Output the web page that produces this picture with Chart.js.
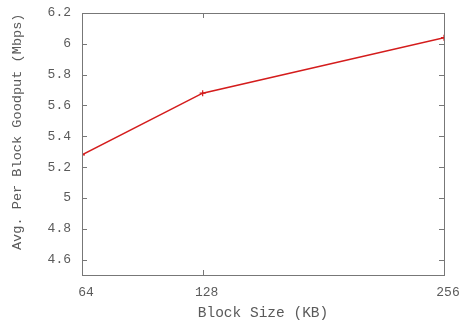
<!DOCTYPE html>
<html>
<head>
<meta charset="utf-8">
<script src="https://cdn.jsdelivr.net/npm/chart.js@4.4.0/dist/chart.umd.min.js"></script>
<style>
  html, body { margin: 0; padding: 0; background: #fff; }
  #goodputChart { display: block; }
</style>
</head>
<body>
<canvas id="goodputChart" width="463" height="323"></canvas>
<script>
// block sizes in KB and the measured goodput
const blockSizes = [64, 128, 256];
const goodput = [5.28, 5.68, 6.04];
const yTicks = [4.6, 4.8, 5, 5.2, 5.4, 5.6, 5.8, 6, 6.2];

const textColor = '#5a5a5a';
const frameColor = '#777';
const monoFont = 'Liberation Mono, DejaVu Sans Mono, monospace';

// gnuplot-like frame with inward ticks on all four sides
const framePlugin = {
    id: 'frame',
    afterDraw(chart) {
        const { ctx, chartArea: a, scales } = chart;
        ctx.save();
        ctx.strokeStyle = frameColor;
        ctx.lineWidth = 1;
        ctx.strokeRect(a.left + 0.5, a.top + 0.5, a.right - a.left, a.bottom - a.top);
        ctx.beginPath();
        yTicks.forEach(v => {
            const y = Math.round(scales.y.getPixelForValue(v)) + 0.5;
            ctx.moveTo(a.left, y); ctx.lineTo(a.left + 5, y);
            ctx.moveTo(a.right, y); ctx.lineTo(a.right - 5, y);
        });
        blockSizes.forEach(v => {
            const x = Math.round(scales.x.getPixelForValue(v)) + 0.5;
            ctx.moveTo(x, a.bottom); ctx.lineTo(x, a.bottom - 5);
            ctx.moveTo(x, a.top); ctx.lineTo(x, a.top + 5);
        });
        ctx.stroke();
        ctx.restore();
    }
};

new Chart(document.getElementById('goodputChart').getContext('2d'), {
    type: 'line',
    data: {
        datasets: [{
            data: blockSizes.map((b, i) => ({ x: b, y: goodput[i] })),
            borderColor: '#d41c1c',
            backgroundColor: '#d41c1c',
            borderWidth: 1.6,
            pointStyle: 'cross',
            pointRadius: 3,
            pointBorderWidth: 1.2,
            tension: 0
        }]
    },
    options: {
        responsive: false,
        animation: false,
        layout: { padding: { top: 13, right: 19, left: 0, bottom: 0 } },
        plugins: { legend: { display: false }, tooltip: { enabled: false } },
        scales: {
            x: {
                type: 'linear',
                min: 64,
                max: 256,
                afterBuildTicks: s => { s.ticks = blockSizes.map(v => ({ value: v })); },
                afterFit: s => { s.height = 48; s.paddingLeft = 0; s.paddingRight = 0; },
                grid: { display: false, drawTicks: false },
                border: { display: false },
                ticks: {
                    color: textColor,
                    font: { family: monoFont, size: 13 },
                    padding: 10,
                    labelOffset: 4,
                    maxRotation: 0
                },
                title: {
                    display: true,
                    text: 'Block Size (KB)',
                    color: textColor,
                    font: { family: monoFont, size: 14.5 },
                    padding: { top: 0, bottom: 1 }
                }
            },
            y: {
                min: 4.5,
                max: 6.2,
                afterBuildTicks: s => { s.ticks = yTicks.map(v => ({ value: v })); },
                afterFit: s => { s.width = 82; s.paddingTop = 0; s.paddingBottom = 0; },
                grid: { display: false, drawTicks: false },
                border: { display: false },
                ticks: {
                    color: textColor,
                    font: { family: monoFont, size: 13 },
                    padding: 11,
                    callback: v => String(Math.round(v * 10) / 10)
                },
                title: {
                    display: true,
                    // leading spaces push the label up a little, as in the original
                    text: '   Avg. Per Block Goodput (Mbps)',
                    color: textColor,
                    font: { family: monoFont, size: 13.6 },
                    padding: { top: 9, bottom: 0 }
                }
            }
        }
    },
    plugins: [framePlugin]
});
</script>
</body>
</html>
